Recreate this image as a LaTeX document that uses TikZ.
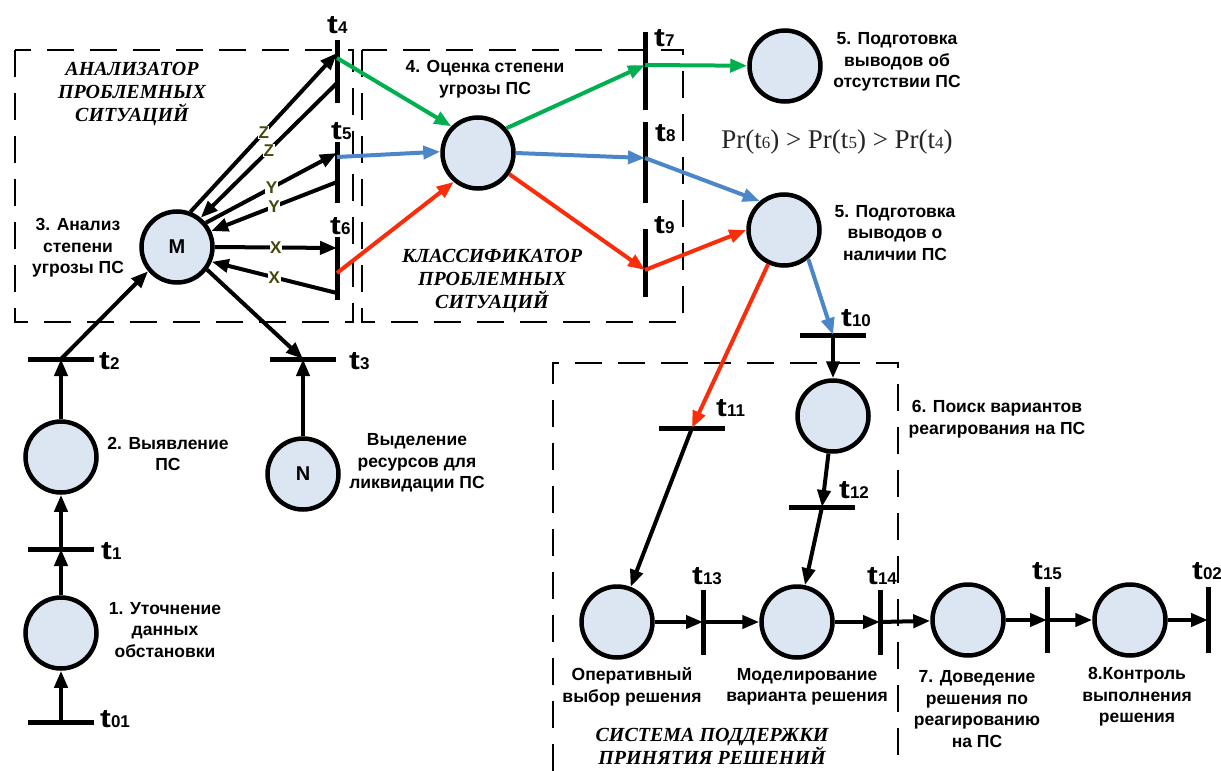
\documentclass[tikz,border=0pt]{standalone}
\usepackage{fontspec}
\usepackage{graphicx}
\setmainfont{Liberation Sans}
\newfontfamily\seriffont{Liberation Serif}
\usetikzlibrary{arrows.meta,calc}

\definecolor{pfill}{RGB}{220,230,242}
\definecolor{cgreen}{RGB}{0,176,80}
\definecolor{cblue}{RGB}{75,135,200}
\definecolor{cred}{RGB}{250,45,10}
\definecolor{olivetxt}{RGB}{70,70,10}

\tikzset{
 place/.style={circle, draw=black, line width=4.5pt, fill=pfill, minimum size=71pt, inner sep=0pt, font=\fontsize{20}{20}\selectfont\bfseries},
 hbar/.style={rectangle, fill=black, minimum width=66pt, minimum height=5pt, inner sep=0pt},
 vbar/.style={rectangle, fill=black, minimum height=#1, minimum width=5pt, inner sep=0pt},
 arc/.style={line width=4pt, -{Triangle[length=17pt,width=13pt]}},
 lbl/.style={align=center, font=\fontsize{17.5}{21.5}\selectfont\bfseries, inner sep=0pt},
 titl/.style={align=center, font=\seriffont\fontsize{20}{23}\selectfont\bfseries\itshape, inner sep=0pt},
 tl/.style={anchor=base west, inner sep=0pt},
 wl/.style={fill=white, inner sep=0.5pt, text=olivetxt, font=\fontsize{17}{17}\selectfont\bfseries},
 boxline/.style={dash pattern=on 27pt off 16pt, line width=2pt},
}
\newcommand{\tlab}[1]{\bfseries\scalebox{1.25}[1]{\fontsize{26}{26}\selectfont t}{\fontsize{17}{17}\selectfont #1}}
\newcommand{\prsub}[1]{{\fontsize{17}{17}\selectfont #1}}

\begin{document}
\begin{tikzpicture}[x=1pt,y=-1pt]
\fill[white] (0,0) rectangle (1221,771);
\useasboundingbox (0,0) rectangle (1221,771);

% dashed boxes
\draw[boxline] (15,50) rectangle (353,322);
\draw[boxline] (362,50) rectangle (683,322);
\draw[boxline] (553,771) -- (553,363) -- (898,363) -- (898,771);

% places
\node[place] (P1) at (61,633) {};
\node[place] (P2) at (61,457) {};
\node[place] (M) at (177,247) {M};
\node[place] (N) at (303,474) {N};
\node[place] (P4) at (478,153) {};
\node[place] (P5a) at (785,66) {};
\node[place] (P5b) at (784,230) {};
\node[place] (P6) at (833,416) {};
\node[place] (Pop) at (617,622) {};
\node[place] (Pmod) at (797,622) {};
\node[place] (P7) at (968,620) {};
\node[place] (P8) at (1130,620) {};

% transitions
\node[hbar] (t01) at (61,722) {};
\node[hbar] (t1) at (61,549) {};
\node[hbar] (t2) at (61,359) {};
\node[hbar] (t3) at (303,359) {};
\node[vbar=63pt] (t4) at (337,71.5) {};
\node[vbar=61pt] (t5) at (337,172.5) {};
\node[vbar=63pt] (t6) at (337,268.5) {};
\node[vbar=78pt] (t7) at (645,71) {};
\node[vbar=81pt] (t8) at (645,162.5) {};
\node[vbar=68pt] (t9) at (645,263) {};
\node[hbar] (t10) at (833,335) {};
\node[hbar] (t11) at (692,428) {};
\node[hbar] (t12) at (822,507) {};
\node[vbar=65pt] (t13) at (703,622) {};
\node[vbar=65pt] (t14) at (880,622) {};
\node[vbar=66pt] (t15) at (1047,620) {};
\node[vbar=66pt] (t02) at (1208,620) {};

% transition labels
\node[tl] (lt01) at (100,727) {\tlab{01}};
\node[tl] (lt1) at (101,559) {\tlab{1}};
\node[tl] (lt2) at (99,369) {\tlab{2}};
\node[tl] (lt3) at (349,369) {\tlab{3}};
\node[tl] (lt4) at (327,34) {\tlab{4}};
\node[tl] (lt5) at (331,139) {\tlab{5}};
\node[tl] (lt6) at (330,234) {\tlab{6}};
\node[tl] (lt7) at (654,46) {\tlab{7}};
\node[tl] (lt8) at (655,141) {\tlab{8}};
\node[tl] (lt9) at (654,233) {\tlab{9}};
\node[tl] (lt10) at (841,326) {\tlab{10}};
\node[tl] (lt11) at (716,416) {\tlab{11}};
\node[tl] (lt12) at (839,498) {\tlab{12}};
\node[tl] (lt13) at (692,584) {\tlab{13}};
\node[tl] (lt14) at (867,584) {\tlab{14}};
\node[tl] (lt15) at (1032,579) {\tlab{15}};
\node[tl] (lt02) at (1192,579) {\tlab{02}};

% left chain
\draw[arc] (t01.center) -- (P1);
\draw[arc] (P1) -- (t1.center);
\draw[arc] (t1.center) -- (P2);
\draw[arc] (P2) -- (t2.center);
\draw[arc] (t2.center) -- (M.220);
\draw[arc] (M.-37) -- (t3.center);
\draw[arc] (N) -- (t3.center);

% M <-> t4..t6
\draw[arc] (M.69) -- node[wl] (z1) {Z} ([yshift=18.5pt]t4.center);
\draw[arc] ([yshift=-11.5pt]t4.center) -- node[wl] (z2) {Z} (M.51);
\draw[arc] (M.40) -- node[wl] (y1) {Y} ([yshift=19.5pt]t5.center);
\draw[arc] ([yshift=-9.5pt]t5.center) -- node[wl] (y2) {Y} (M.25);
\draw[arc] (M.0) -- node[wl] (x1) {X} ([yshift=20.5pt]t6.center);
\draw[arc] ([yshift=-24.5pt]t6.center) -- node[wl] (x2) {X} (M.-23);

% coloured arcs
\draw[arc, cgreen] ([yshift=13.5pt]t4.center) -- (P4.135);
\draw[arc, cblue] ([yshift=15.5pt]t5.center) -- (P4.178);
\draw[arc, cred] ([yshift=-4.5pt]t6.center) -- (P4.230);
\draw[arc, cgreen] (P4.41) -- ([yshift=6pt]t7.center);
\draw[arc, cgreen] ([yshift=6pt]t7.center) -- (P5a);
\draw[arc, cblue] (P4.0) -- ([yshift=4.5pt]t8.center);
\draw[arc, cblue] ([yshift=4.5pt]t8.center) -- (P5b.130);
\draw[arc, cred] (P4.-34) -- ([yshift=-7pt]t9.center);
\draw[arc, cred] ([yshift=-7pt]t9.center) -- (P5b.west);
\draw[arc, cred] (P5b) -- (t11.center);
\draw[arc, cblue] (P5b.-50) -- (t10.center);

% lower part
\draw[arc] (t10.center) -- (P6);
\draw[arc] (P6) -- (t12.center);
\draw[arc] (t12.center) -- (Pmod);
\draw[arc] (t11.center) -- (Pop);
\draw[arc] (Pop) -- (t13.center);
\draw[arc] (t13.center) -- (Pmod);
\draw[arc] (Pmod) -- (t14.center);
\draw[arc] (t14.center) -- (P7);
\draw[arc] (P7) -- (t15.center);
\draw[arc] (t15.center) -- (P8);
\draw[arc] (P8) -- (t02.center);

% titles
\node[titl] (tA) at (132,94) {АНАЛИЗАТОР\\ПРОБЛЕМНЫХ\\СИТУАЦИЙ};
\node[titl] (tK) at (492,281) {КЛАССИФИКАТОР\\ПРОБЛЕМНЫХ\\СИТУАЦИЙ};
\node[titl] (tS) at (712,746) {СИСТЕМА ПОДДЕРЖКИ\\ПРИНЯТИЯ РЕШЕНИЙ};

% labels
\node[lbl] (l3) at (78,248) {3. Анализ\\степени\\угрозы ПС};
\node[lbl] (l4) at (485,79) {4. Оценка степени\\угрозы ПС};
\node[lbl] (l5a) at (897,62) {5. Подготовка\\выводов об\\отсутствии ПС};
\node[lbl] (l5b) at (895,233) {5. Подготовка\\выводов о\\наличии ПС};
\node[lbl] (l6) at (997,419) {6. Поиск вариантов\\реагирования на ПС};
\node[lbl] (l2) at (168,454) {2. Выявление\\ПС};
\node[lbl] (lN) at (417,463) {Выделение\\ресурсов для\\ликвидации ПС};
\node[lbl] (l1) at (165,630) {1. Уточнение\\данных\\обстановки};
\node[lbl] (lop) at (632,687) {Оперативный\\выбор решения};
\node[lbl] (lmod) at (807,687) {Моделирование\\варианта решения};
\node[lbl] (l7) at (977,709) {7. Доведение\\решения по\\реагированию\\на ПС};
\node[lbl] (l8) at (1137,697) {8.Контроль\\выполнения\\решения};

\node[inner sep=0pt, font=\seriffont\fontsize{27}{27}\selectfont, text=black!85] (pr) at (837,142)
 {Pr(t\prsub{6}) > Pr(t\prsub{5}) > Pr(t\prsub{4})};
\end{tikzpicture}
\end{document}
